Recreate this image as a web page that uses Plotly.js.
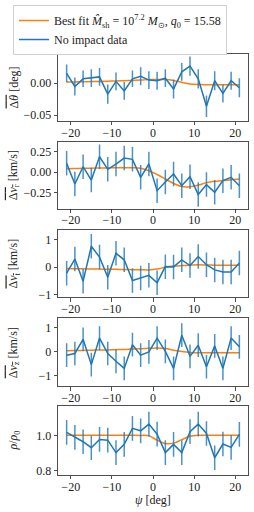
<!DOCTYPE html>
<html><head><meta charset="utf-8">
<script src="https://cdn.plot.ly/plotly-3.0.1.min.js"></script>
<style>body{margin:0;background:#fff}</style>
</head><body>
<div id="chart" style="width:254px;height:512px"></div>
<script>
const psi = [-21,-19,-17,-15,-13,-11,-9,-7,-5,-3,-1,1,3,5,7,9,11,13,15,17,19,21];
const xTicks = [-20,-10,0,10,20];

const dTheta = [0.0156,-0.005,0.007,0.008,0.010,-0.017,0.003,-0.012,0.007,0.011,0.005,0.004,0.008,-0.009,0.018,0.027,0.007,-0.036,0.004,-0.016,0.004,-0.007];
const dThetaErr = [0.014,0.014,0.013,0.014,0.014,0.015,0.014,0.014,0.013,0.014,0.014,0.014,0.014,0.015,0.014,0.015,0.015,0.017,0.015,0.014,0.014,0.015];
const dThetaFit = [0.002,0.0022,0.0025,0.0027,0.003,0.0033,0.0037,0.004,0.0045,0.005,0.0058,0.006,0.006,0.0045,0.0015,-0.001,-0.002,-0.0022,-0.0022,-0.0022,-0.0022,-0.0022];

const dVr = [0.106,-0.146,0.065,-0.098,0.187,0.033,0.098,0.171,0.155,-0.065,0.098,-0.228,-0.122,-0.024,-0.167,-0.057,-0.276,-0.154,-0.248,-0.106,-0.065,-0.167];
const dVrErr = [0.15,0.15,0.15,0.15,0.15,0.15,0.15,0.15,0.15,0.15,0.15,0.15,0.15,0.15,0.15,0.15,0.15,0.15,0.15,0.15,0.15,0.15];
const dVrFit = [0.04,0.042,0.045,0.047,0.049,0.05,0.052,0.053,0.052,0.045,0.016,-0.03,-0.085,-0.14,-0.178,-0.18,-0.16,-0.13,-0.114,-0.105,-0.094,-0.085];

const dVt = [-0.22,0.30,-0.52,0.77,0.37,-0.37,0.51,0.27,-0.49,-0.40,-0.30,-0.57,0.02,0.01,0.27,0.06,0.39,0.09,-0.10,-0.18,-0.18,0.15];
const dVtErr = [0.45,0.45,0.45,0.45,0.45,0.45,0.45,0.45,0.45,0.45,0.45,0.45,0.45,0.45,0.45,0.45,0.45,0.45,0.45,0.45,0.45,0.45];
const dVtFit = [-0.05,-0.055,-0.06,-0.065,-0.07,-0.075,-0.08,-0.085,-0.09,-0.095,-0.1,-0.07,0.0,0.04,0.06,0.075,0.085,0.08,0.075,0.072,0.07,0.07];

const dVz = [-0.15,-0.08,0.52,-0.55,0.57,-0.08,-0.41,-0.71,0.29,-0.15,-0.01,0.57,0.01,-0.71,0.69,-0.20,0.27,-0.64,0.24,-0.71,0.57,0.20];
const dVzErr = [0.5,0.5,0.5,0.5,0.5,0.5,0.5,0.5,0.5,0.5,0.5,0.5,0.5,0.5,0.5,0.5,0.5,0.5,0.5,0.5,0.5,0.5];
const dVzFit = [0.04,0.045,0.05,0.06,0.065,0.07,0.08,0.09,0.11,0.125,0.14,0.15,0.13,0.06,0.0,-0.04,-0.05,-0.05,-0.05,-0.05,-0.05,-0.05];

const rho = [1.019,0.991,0.966,0.932,0.979,0.975,0.904,0.951,1.042,1.028,1.066,1.009,0.904,0.951,0.904,1.023,1.066,1.013,0.875,0.953,0.934,1.008];
const rhoErr = [0.07,0.07,0.07,0.07,0.07,0.07,0.07,0.07,0.07,0.07,0.07,0.07,0.07,0.07,0.07,0.07,0.07,0.07,0.07,0.07,0.07,0.07];
const rhoFit = [1.003,1.003,1.003,1.003,1.003,1.003,1.003,1.003,1.003,1.002,1.0,0.975,0.956,0.958,0.978,0.997,1.003,1.003,1.003,1.003,1.003,1.003];

const panels = [
  {y: dTheta, e: dThetaErr, f: dThetaFit, range:[-0.059,0.046], ticks:[-0.05,0], fmt:'.2f',
   title:'<span style="text-decoration:overline">Δ<i>θ</i></span> [deg]'},
  {y: dVr, e: dVrErr, f: dVrFit, range:[-0.448,0.37], ticks:[-0.25,0,0.25], fmt:'.2f',
   title:'<span style="text-decoration:overline">Δ<i>v</i><sub>r</sub></span> [km/s]'},
  {y: dVt, e: dVtErr, f: dVtFit, range:[-1.11,1.38], ticks:[-1,0,1], fmt:'d',
   title:'<span style="text-decoration:overline">Δ<i>v</i><sub>t</sub></span> [km/s]'},
  {y: dVz, e: dVzErr, f: dVzFit, range:[-1.46,1.40], ticks:[-1,0,1], fmt:'d',
   title:'<span style="text-decoration:overline">Δ<i>v</i><sub>z</sub></span> [km/s]'},
  {y: rho, e: rhoErr, f: rhoFit, range:[0.777,1.168], ticks:[0.8,1.0], fmt:'.1f',
   title:'<i>ρ</i>/<i>ρ</i><sub>0</sub>'}
];

const domains = [[0.8412,1.0],[0.6327,0.7915],[0.4218,0.5829],[0.2109,0.3720],[0.0,0.1635]];
const FONT = '"Liberation Serif", "Times New Roman", Times, serif';
const traces = [];
const layout = {
  width:254, height:512,
  margin:{l:58, r:6, t:53, b:37},
  paper_bgcolor:'#fff', plot_bgcolor:'#fff',
  font:{family:FONT, size:12, color:'#000'},
  showlegend:true,
  legend:{x:-0.237, y:1.1137, xanchor:'left', yanchor:'top', bgcolor:'#fff',
          bordercolor:'#d0d0d0', borderwidth:1, font:{family:FONT, size:12, color:'#222'},
          traceorder:'normal', tracegroupgap:0, itemwidth:30},
  annotations:[]
};

panels.forEach((p,i)=>{
  const n = i+1;
  const xa = 'x'+(n===1?'':n), ya = 'y'+(n===1?'':n);
  traces.push({x:psi, y:p.f, xaxis:xa, yaxis:ya, mode:'lines', type:'scatter',
    line:{color:'#ff7f0e', width:1.5, shape:'spline', smoothing:1},
    name:'Best fit <i>M̂</i><sub>sh</sub> = 10<sup>7.2</sup> <i>M</i><sub>⊙</sub>, <i>q</i><sub>0</sub> = 15.58',
    showlegend: i===0, hoverinfo:'skip'});
  traces.push({x:psi, y:p.y, xaxis:xa, yaxis:ya, mode:'lines', type:'scatter',
    line:{color:'#1f77b4', width:1.5},
    error_y:{type:'data', array:p.e, visible:true, color:'rgba(31,119,180,0.8)', thickness:1.5, width:0},
    name:'No impact data', showlegend: i===0, hoverinfo:'skip'});
  const axCommon = {showline:true, mirror:true, linecolor:'#222', linewidth:0.8,
    ticks:'outside', ticklen:3.5, tickwidth:0.8, tickcolor:'#222', showgrid:false, zeroline:false,
    tickfont:{family:FONT, size:12, color:'#222'}};
  layout['xaxis'+(n===1?'':n)] = Object.assign({}, axCommon, {anchor:ya, range:[-23.1,23.1],
    ticklabelstandoff:-3,
    tickmode:'array', tickvals:xTicks, ticktext:xTicks.map(v=>v<0?'−'+Math.abs(v):String(v))});
  layout['yaxis'+(n===1?'':n)] = Object.assign({}, axCommon, {anchor:xa, domain:domains[i], range:p.range,
    tickmode:'array', tickvals:p.ticks, tickformat:p.fmt});
  layout.annotations.push({xref:'paper', yref:'paper', x:-0.2316, y:(domains[i][0]+domains[i][1])/2,
    text:p.title, textangle:-90, showarrow:false, xanchor:'center', yanchor:'middle',
    font:{family:FONT, size:12, color:'#222'}});
});
layout.annotations.push({xref:'paper', yref:'paper', x:0.5, y:-0.06, text:'<i>ψ</i> [deg]',
  showarrow:false, xanchor:'center', yanchor:'middle', font:{family:FONT, size:12, color:'#222'}});

Plotly.newPlot('chart', traces, layout, {staticPlot:true, displayModeBar:false});
</script>
</body></html>
